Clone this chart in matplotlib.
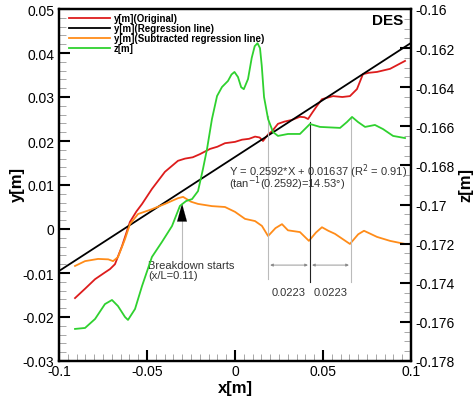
import numpy as np
import matplotlib
matplotlib.use('Agg')
import matplotlib.pyplot as plt
from matplotlib.ticker import MultipleLocator

plt.rcParams['font.family'] = ['Liberation Sans', 'DejaVu Sans']

# y[m] original
x_orig = [-0.0909, -0.0850, -0.0795, -0.0740, -0.0710, -0.0682, -0.0642, -0.0597, -0.0560,
          -0.0528, -0.0472, -0.0398, -0.0324, -0.0284, -0.0240, -0.0200, -0.0142, -0.0100,
          -0.0057, 0.0000, 0.0040, 0.0080, 0.0114, 0.0140,
          0.0159, 0.0188, 0.0210, 0.0244, 0.0280, 0.0324, 0.0369, 0.0395, 0.0415, 0.0440,
          0.0466, 0.0494, 0.0557, 0.0610, 0.0653, 0.0693, 0.0727, 0.0760, 0.0807, 0.0881,
          0.0966]
y_orig = [-0.0157, -0.0135, -0.0114, -0.0099, -0.0091, -0.0080, -0.0039, 0.0016, 0.0040,
          0.0057, 0.0091, 0.0130, 0.0155, 0.0160, 0.0163, 0.0170, 0.0182, 0.0187,
          0.0195, 0.0198, 0.0203, 0.0205, 0.0210, 0.0208,
          0.0200, 0.0215, 0.0222, 0.0239, 0.0244, 0.0248, 0.0255, 0.0254, 0.0250, 0.0265,
          0.0280, 0.0295, 0.0302, 0.0300, 0.0302, 0.0318, 0.0352, 0.0355, 0.0357, 0.0364,
          0.0382]

# regression line
reg_x = np.array([-0.1, 0.1])
reg_slope = 0.2592
reg_intercept = 0.01637

# y[m] with regression line subtracted
x_sub = [-0.0909, -0.0852, -0.0778, -0.0720, -0.0693, -0.0665, -0.0625, -0.0597, -0.0551,
         -0.0472, -0.0398, -0.0324, -0.0295, -0.0250, -0.0210, -0.0131, -0.0057,
         0.0000, 0.0057, 0.0114, 0.0153, 0.0188, 0.0230, 0.0267, 0.0301, 0.0369,
         0.0420, 0.0460, 0.0494, 0.0530, 0.0568, 0.0653, 0.0700, 0.0733, 0.0807, 0.0881, 0.0966]
y_sub = [-0.0084, -0.0073, -0.0068, -0.0069, -0.0073, -0.0064, -0.0023, 0.0011, 0.0034,
         0.0045, 0.0057, 0.0070, 0.0073, 0.0062, 0.0057, 0.0052, 0.0050,
         0.0039, 0.0023, 0.0018, 0.0007, -0.0016, 0.0002, 0.0011, -0.0003, -0.0007,
         -0.0027, -0.0008, 0.0004, -0.0004, -0.0011, -0.0034, -0.0012, -0.0004, -0.0018, -0.0027, -0.0034]

# z[m]
x_z = [-0.0909, -0.0852, -0.0795, -0.0739, -0.0699, -0.0665, -0.0625, -0.0608,
       -0.0568, -0.0528, -0.0472, -0.0415, -0.0358, -0.0313, -0.0278, -0.0244,
       -0.0210, -0.0182, -0.0159, -0.0131, -0.0102, -0.0074, -0.0040, -0.0020, -0.0003,
       0.0017, 0.0035, 0.0050, 0.0074, 0.0095, 0.0112, 0.0128, 0.0142, 0.0152, 0.0165, 0.0188,
       0.0216, 0.0244, 0.0301, 0.0369, 0.0426, 0.0483, 0.0597, 0.0636, 0.0665, 0.0699,
       0.0739, 0.0795, 0.0841, 0.0898, 0.0966]
z = [-0.17636, -0.17631, -0.17585, -0.17509, -0.17488, -0.17519, -0.17575, -0.17590,
     -0.17534, -0.17416, -0.17268, -0.17191, -0.17110, -0.17007, -0.16982, -0.16972,
     -0.16931, -0.16818, -0.16716, -0.16563, -0.16445, -0.16399, -0.16368, -0.16335, -0.16322,
     -0.16348, -0.16400, -0.16410, -0.16358, -0.16250, -0.16190, -0.16175, -0.16200, -0.16290,
     -0.16450, -0.16563, -0.16629, -0.16649, -0.16639, -0.16639, -0.16588, -0.16603, -0.16608,
     -0.16578, -0.16552, -0.16578, -0.16603, -0.16593, -0.16614, -0.16649, -0.16660]

# annotation positions
x_marks = [0.0188, 0.0426, 0.0659]
x_break = -0.0301

red = '#dd1c1c'
orange = '#ff8c19'
green = '#2fd12f'

fig = plt.figure(figsize=(4.74, 4.02), dpi=100)
ax = fig.add_axes([59/474, 1-362/402, 352/474, 352/402])
ax2 = ax.twinx()

l1, = ax.plot(x_orig, y_orig, color=red, lw=1.3, label='y[m](Original)')
l2, = ax.plot(reg_x, reg_slope*reg_x + reg_intercept, color='black', lw=1.3, label='y[m](Regression line)')
l3, = ax.plot(x_sub, y_sub, color=orange, lw=1.3, label='y[m](Subtracted regression line)')
l4, = ax2.plot(x_z, z, color=green, lw=1.3, label='z[m]')

# vertical marker lines
ax.plot([x_marks[0]]*2, [0.0257, -0.0114], color='#bbbbbb', lw=0.8)
ax.plot([x_marks[1]]*2, [0.0243, -0.0120], color='#222222', lw=0.8)
ax.plot([x_marks[2]]*2, [0.0255, -0.0120], color='#bbbbbb', lw=0.8)
for a, b in [(x_marks[0], x_marks[1]), (x_marks[1], x_marks[2])]:
    ax.annotate('', xy=(b - 0.0012, -0.0082), xytext=(a + 0.0012, -0.0082),
                arrowprops=dict(arrowstyle='<|-|>', color='#888888', lw=0.6,
                                mutation_scale=4, shrinkA=0, shrinkB=0))
    ax.text((a + b)/2, -0.0143, '0.0223', fontsize=8, color='#333333',
            ha='center', va='center')

# breakdown arrow
ax.plot([x_break]*2, [0.0027, -0.0073], color='#bbbbbb', lw=0.8)
ax.annotate('', xy=(x_break, 0.0058), xytext=(x_break, 0.0026),
            arrowprops=dict(arrowstyle='-|>,head_length=0.8,head_width=0.22', color='black',
                            lw=0.1, mutation_scale=16, shrinkA=0, shrinkB=0))
ax.text(-0.0494, -0.0070, 'Breakdown starts\n(x/L=0.11)', fontsize=8,
        color='#333333', ha='left', va='top', linespacing=1.0)

ax.text(-0.0034, 0.0132, 'Y = 0.2592*X + 0.01637 (R$^2$ = 0.91)', fontsize=8,
        color='#333333', ha='left', va='center')
ax.text(-0.0034, 0.0105, '(tan$^{-1}$(0.2592)=14.53\u00b0)', fontsize=8,
        color='#333333', ha='left', va='center')
ax.text(0.0955, 0.0475, 'DES', fontsize=11, fontweight='bold', ha='right', va='center')

ax.set_xlim(-0.1, 0.1)
ax.set_ylim(-0.03, 0.05)
ax2.set_ylim(-0.178, -0.16)

ax.xaxis.set_major_locator(MultipleLocator(0.05))
ax.xaxis.set_minor_locator(MultipleLocator(0.005))
ax.yaxis.set_major_locator(MultipleLocator(0.01))
ax.yaxis.set_minor_locator(MultipleLocator(0.002))
ax2.yaxis.set_major_locator(MultipleLocator(0.002))
ax2.yaxis.set_minor_locator(MultipleLocator(0.0005))

ax.xaxis.set_major_formatter(plt.FuncFormatter(lambda v, p: ('%g' % round(v, 3))))
ax.yaxis.set_major_formatter(plt.FuncFormatter(lambda v, p: ('%g' % round(v, 3))))
ax2.yaxis.set_major_formatter(plt.FuncFormatter(lambda v, p: ('%g' % round(v, 4))))

ax.tick_params(axis='both', which='major', direction='in', length=8, width=1.5,
               labelsize=10, top=False, right=False)
ax.tick_params(axis='both', which='minor', direction='in', length=5, width=0.6,
               color='#999999', top=False, right=False)
ax2.tick_params(axis='y', which='major', direction='in', length=8, width=1.5, labelsize=10)
ax2.tick_params(axis='y', which='minor', direction='in', length=5, width=0.6, color='#999999')
ax.tick_params(axis='x', pad=2)
for a in (ax, ax2):
    for s in a.spines.values():
        s.set_linewidth(1.6)

ax.set_xlabel('x[m]', fontsize=12, fontweight='bold')
ax.set_ylabel('y[m]', fontsize=12, fontweight='bold')
ax2.set_ylabel('z[m]', fontsize=12, fontweight='bold')
ax.xaxis.set_label_coords(0.5, -0.055)
ax.yaxis.set_label_coords(-0.097, 0.503)
ax2.yaxis.set_label_coords(1.134, 0.503)

ax.legend(handles=[l1, l2, l3, l4], loc='upper left', bbox_to_anchor=(0.02, 0.997),
          frameon=False, prop={'size': 7, 'weight': 'bold'}, handlelength=4.2,
          labelspacing=0.0, handletextpad=0.4, borderaxespad=0.0, borderpad=0.3)

plt.savefig('out.png', dpi=100)
